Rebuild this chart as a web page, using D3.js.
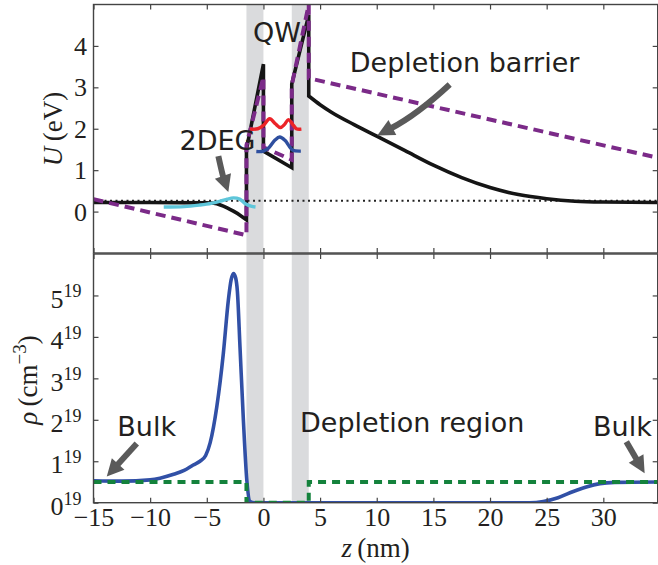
<!DOCTYPE html>
<html>
<head>
<meta charset="utf-8">
<script src="https://cdn.jsdelivr.net/npm/d3@7"></script>
<style>
  body { margin: 0; background: #fff; }
  svg { display: block; }
  .tick text { font-family: "Liberation Serif", "DejaVu Serif", serif; font-size: 26px; fill: #231f20; }
  .tick line { stroke: #444; stroke-width: 1.2; }
  .axlabel { font-family: "Liberation Serif", "DejaVu Serif", serif; font-size: 27px; fill: #231f20; }
  .note { font-family: "DejaVu Sans", sans-serif; font-size: 27px; fill: #231f20; }
</style>
</head>
<body>
<svg id="chart" width="658" height="565"></svg>
<script>
document.addEventListener('DOMContentLoaded', () => {

    // ---- data ----
    const zTicks = [-15, -10, -5, 0, 5, 10, 15, 20, 25, 30];
    const uTicks = [0, 1, 2, 3, 4];
    const rhoTicks = [0, 1, 2, 3, 4, 5];
    const rhoExp = '19';

    // barrier layers (nm)
    const barriers = [[-1.5, 0], [2.5, 4]];

    // self-consistent potential U (eV), black
    const potLeftZ = [-15, -10, -5, -4.4, -3.8, -3.2, -2.65, -2.1, -1.5];
    const potLeftU = [0.22, 0.22, 0.21, 0.2, 0.16, 0.09, 0.01, -0.08, -0.2];
    const potWellZ = [-1.5, -1.5, 0, 0, 2.5, 2.5, 4, 4];
    const potWellU = [-0.2, 1.5, 3.56, 1.46, 1.06, 3.08, 4.75, 2.79];
    const potTailZ = [4, 5, 6, 8, 10, 12.5, 15, 17.5, 20, 22.5, 25, 27.5, 30, 34.8];
    const potTailU = [2.79, 2.58, 2.4, 2.1, 1.82, 1.47, 1.12, 0.82, 0.58, 0.41, 0.31, 0.25, 0.23, 0.22];

    // bare potential, purple dashed
    const bareZ = [-15, -1.5, -1.5, 0, 0, 2.5, 2.5, 4, 4, 34.8];
    const bareU = [0.3, -0.57, 1.6, 3.25, 1.55, 1.25, 3.05, 5.0, 3.22, 1.3];

    // Fermi level
    const fermiU = 0.26;

    // 2DEG state, cyan
    const degZ = [-8.8, -7, -5.6, -4.6, -3.8, -3.2, -2.65, -2.1, -1.6, -1.1, -0.7];
    const degU = [0.11, 0.12, 0.16, 0.2, 0.25, 0.3, 0.33, 0.3, 0.19, 0.13, 0.11];

    // QW states, red and blue
    const qwRedZ = [-1.2, -0.5, 0, 0.55, 1.05, 1.5, 1.85, 2.2, 2.55, 2.9, 3.35];
    const qwRedU = [1.99, 2.0, 2.08, 2.24, 2.12, 2.03, 2.1, 2.22, 2.12, 2.0, 1.99];
    const qwBlueZ = [-0.63, 0, 0.5, 1, 1.44, 1.9, 2.3, 2.6, 3.3];
    const qwBlueU = [1.45, 1.46, 1.55, 1.72, 1.8, 1.72, 1.57, 1.48, 1.46];

    // electron density (x 1e19 cm^-3), blue
    const rhoZ = [-15, -12.5, -10, -8, -7, -6.2, -5.6, -5.1, -4.7, -4.12, -3.54, -3.1, -2.85, -2.65,
                  -2.45, -2.3, -2.07, -1.77, -1.47, -1.18, -0.8, 23.5, 24.7, 26, 27.35, 28.5, 29.7, 31, 34.8];
    const rhoVal = [0.53, 0.52, 0.55, 0.68, 0.78, 0.91, 1.0, 1.14, 1.45, 2.31, 3.6, 4.88, 5.38, 5.53,
                    5.42, 5.1, 3.76, 1.99, 0.55, 0.03, 0, 0, 0.03, 0.12, 0.27, 0.38, 0.46, 0.49, 0.5];

    // doping, green dashed
    const dopZ = [-15, -1.5, -1.5, 4, 4, 34.8];
    const dopVal = [0.5, 0.5, 0, 0, 0.5, 0.5];

    // annotations (data coordinates)
    const topNotes = [
        { text: 'QW', z: -0.92, v: 4.09 },
        { text: '2DEG', z: -7.4, v: 1.49 },
        { text: 'Depletion barrier', z: 7.62, v: 3.36 }
    ];
    const botNotes = [
        { text: 'Bulk', z: -12.9, v: 1.61 },
        { text: 'Depletion region', z: 3.23, v: 1.71 },
        { text: 'Bulk', z: 29.09, v: 1.61 }
    ];
    const topArrows = [
        { from: [-3.98, 1.34], to: [-3.1, 0.47], bend: 1 },
        { from: [16.44, 3.07], to: [10.05, 1.84], bend: -6 }
    ];
    const botArrows = [
        { from: [-11.18, 1.43], to: [-13.83, 0.63], bend: 0 },
        { from: [32.03, 1.47], to: [33.65, 0.71], bend: 0 }
    ];

    // ---- layout ----
    const svg = d3.select('#chart');
    const left = 93.5, right = 657.7;
    const top1 = 4.5, bot1 = 253, top2 = 254, bot2 = 502.7;

    const x = d3.scaleLinear().domain([-15, 34.8]).range([left, right]);
    const yU = d3.scaleLinear().domain([-1, 5]).range([bot1, top1]);
    const yR = d3.scaleLinear().domain([0, 6]).range([bot2, top2]);

    const defs = svg.append('defs');
    defs.append('clipPath').attr('id', 'clipTop').append('rect')
        .attr('x', left).attr('y', top1).attr('width', right - left).attr('height', bot1 - top1);
    defs.append('clipPath').attr('id', 'clipBot').append('rect')
        .attr('x', left).attr('y', top2).attr('width', right - left).attr('height', bot2 - top2);

    const gTop = svg.append('g').attr('clip-path', 'url(#clipTop)');
    const gBot = svg.append('g').attr('clip-path', 'url(#clipBot)');

    // barrier shading
    [[gTop, top1, bot1], [gBot, top2, bot2]].forEach(([g, y0, y1]) => {
        g.selectAll('rect.barrier')
            .data(barriers)
            .enter()
            .append('rect')
            .attr('class', 'barrier')
            .attr('x', d => x(d[0]))
            .attr('width', d => x(d[1]) - x(d[0]))
            .attr('y', y0)
            .attr('height', y1 - y0)
            .attr('fill', '#dadbdd');
    });

    const lineOf = (ys, curve) => (zs, vs) =>
        d3.line().x((_, i) => x(zs[i])).y((_, i) => ys(vs[i])).curve(curve)(zs);

    // join several pieces into one continuous path
    function joined(pieces) {
        return pieces.map((p, i) => {
            const d = lineOf(yU, p.curve)(p.z, p.v);
            return i ? 'L' + d.slice(1) : d;
        }).join('');
    }

    // ---- top panel ----
    gTop.append('line')
        .attr('x1', left).attr('x2', right)
        .attr('y1', yU(fermiU)).attr('y2', yU(fermiU))
        .attr('stroke', '#222').attr('stroke-width', 2)
        .attr('stroke-dasharray', '2,3.5');

    gTop.append('path')
        .attr('d', joined([
            { z: potLeftZ, v: potLeftU, curve: d3.curveMonotoneX },
            { z: potWellZ, v: potWellU, curve: d3.curveLinear },
            { z: potTailZ, v: potTailU, curve: d3.curveMonotoneX }
        ]))
        .attr('fill', 'none').attr('stroke', '#151515').attr('stroke-width', 3.6)
        .attr('stroke-linejoin', 'miter');

    gTop.append('path')
        .attr('d', lineOf(yU, d3.curveLinear)(bareZ, bareU))
        .attr('fill', 'none').attr('stroke', '#7b2a88').attr('stroke-width', 4)
        .attr('stroke-dasharray', '10,6');

    gTop.append('path')
        .attr('d', lineOf(yU, d3.curveCatmullRom)(degZ, degU))
        .attr('fill', 'none').attr('stroke', '#5ec6da').attr('stroke-width', 3.4);

    gTop.append('path')
        .attr('d', lineOf(yU, d3.curveCatmullRom)(qwRedZ, qwRedU))
        .attr('fill', 'none').attr('stroke', '#ec2328').attr('stroke-width', 3.4);

    gTop.append('path')
        .attr('d', lineOf(yU, d3.curveCatmullRom)(qwBlueZ, qwBlueU))
        .attr('fill', 'none').attr('stroke', '#2e4f9f').attr('stroke-width', 3.4);

    // ---- bottom panel ----
    gBot.append('path')
        .attr('d', lineOf(yR, d3.curveMonotoneX)(rhoZ, rhoVal))
        .attr('fill', 'none').attr('stroke', '#3150a6').attr('stroke-width', 3.6);

    gBot.append('path')
        .attr('d', lineOf(yR, d3.curveLinear)(dopZ, dopVal))
        .attr('fill', 'none').attr('stroke', '#14823c').attr('stroke-width', 4)
        .attr('stroke-dasharray', '8,6');

    // ---- frames and axes ----
    const fmt = d => (d < 0 ? '\u2212' + Math.abs(d) : String(d));

    function frame(y0, y1) {
        svg.append('rect')
            .attr('x', left).attr('y', y0)
            .attr('width', right - left).attr('height', y1 - y0)
            .attr('fill', 'none').attr('stroke', '#444').attr('stroke-width', 1.4);
    }

    function styleAxis(g) {
        g.select('.domain').remove();
    }

    // top panel axes
    svg.append('g').attr('transform', `translate(0,${bot1})`)
        .call(d3.axisBottom(x).tickValues(zTicks).tickSize(-5).tickFormat(''))
        .call(styleAxis);
    svg.append('g').attr('transform', `translate(0,${top1})`)
        .call(d3.axisTop(x).tickValues(zTicks).tickSize(-5).tickFormat(''))
        .call(styleAxis);
    svg.append('g').attr('transform', `translate(${left},0)`)
        .call(d3.axisLeft(yU).tickValues(uTicks).tickSize(-5).tickPadding(6.5).tickFormat(fmt))
        .call(styleAxis)
        .selectAll('text').attr('dy', '0.33em');
    svg.append('g').attr('transform', `translate(${right},0)`)
        .call(d3.axisRight(yU).tickValues(uTicks).tickSize(-5).tickFormat(''))
        .call(styleAxis);

    // bottom panel axes
    svg.append('g').attr('transform', `translate(0,${bot2})`)
        .call(d3.axisBottom(x).tickValues(zTicks).tickSize(-5).tickPadding(5).tickFormat(fmt))
        .call(styleAxis);
    svg.append('g').attr('transform', `translate(0,${top2})`)
        .call(d3.axisTop(x).tickValues(zTicks).tickSize(-5).tickFormat(''))
        .call(styleAxis);
    const rhoAxis = svg.append('g').attr('transform', `translate(${left},0)`)
        .call(d3.axisLeft(yR).tickValues(rhoTicks).tickSize(-5).tickPadding(12))
        .call(styleAxis);
    rhoAxis.selectAll('.tick text').each(function (d) {
        const t = d3.select(this).text(null).attr('dy', null).attr('y', 11.7);
        t.append('tspan').text(fmt(d));
        t.append('tspan').attr('dy', -10.3).style('font-size', '18px').text(rhoExp);
    });
    svg.append('g').attr('transform', `translate(${right},0)`)
        .call(d3.axisRight(yR).tickValues(rhoTicks).tickSize(-5).tickFormat(''))
        .call(styleAxis);

    frame(top1, bot1);
    frame(top2, bot2);

    // axis titles
    const uLab = svg.append('text').attr('class', 'axlabel')
        .attr('transform', 'translate(62,129) rotate(-90)')
        .attr('text-anchor', 'middle');
    uLab.append('tspan').style('font-style', 'italic').text('U');
    uLab.append('tspan').text('\u2009(eV)');

    const rLab = svg.append('text').attr('class', 'axlabel')
        .attr('transform', 'translate(37,380) rotate(-90)')
        .attr('text-anchor', 'middle');
    rLab.append('tspan').style('font-style', 'italic').text('\u03c1');
    rLab.append('tspan').text('\u2009(cm');
    rLab.append('tspan').attr('dy', -11).style('font-size', '19px').text('\u22123');
    rLab.append('tspan').attr('dy', 11).text(')');

    const zLab = svg.append('text').attr('class', 'axlabel')
        .attr('x', (left + right) / 2).attr('y', 557)
        .attr('text-anchor', 'middle');
    zLab.append('tspan').style('font-style', 'italic').text('z');
    zLab.append('tspan').text('\u2009(nm)');

    // ---- annotations ----
    function arrow(p0, p1, bend) {
        const [x0, y0] = p0, [x1, y1] = p1;
        const dx = x1 - x0, dy = y1 - y0, len = Math.hypot(dx, dy);
        const nx = -dy / len, ny = dx / len;
        const cx = (x0 + x1) / 2 + nx * bend, cy = (y0 + y1) / 2 + ny * bend;
        let tx = x1 - cx, ty = y1 - cy;
        const tl = Math.hypot(tx, ty); tx /= tl; ty /= tl;
        const headL = 17, headW = 8.5;
        const bx = x1 - tx * headL, by = y1 - ty * headL;
        const p = d3.path();
        p.moveTo(x0, y0);
        p.quadraticCurveTo(cx, cy, bx + tx * 2, by + ty * 2);
        svg.append('path').attr('d', p.toString())
            .attr('fill', 'none').attr('stroke', '#5a5a5a').attr('stroke-width', 6);
        svg.append('path')
            .attr('d', `M${x1},${y1}L${bx - ty * headW},${by + tx * headW}L${bx + ty * headW},${by - tx * headW}Z`)
            .attr('fill', '#5a5a5a');
    }

    topArrows.forEach(a => arrow([x(a.from[0]), yU(a.from[1])], [x(a.to[0]), yU(a.to[1])], a.bend));
    botArrows.forEach(a => arrow([x(a.from[0]), yR(a.from[1])], [x(a.to[0]), yR(a.to[1])], a.bend));

    svg.selectAll('text.note-top')
        .data(topNotes)
        .enter()
        .append('text')
        .attr('class', 'note')
        .attr('x', d => x(d.z))
        .attr('y', d => yU(d.v))
        .text(d => d.text);

    svg.selectAll('text.note-bot')
        .data(botNotes)
        .enter()
        .append('text')
        .attr('class', 'note')
        .attr('x', d => x(d.z))
        .attr('y', d => yR(d.v))
        .text(d => d.text);
});
</script>
</body>
</html>
